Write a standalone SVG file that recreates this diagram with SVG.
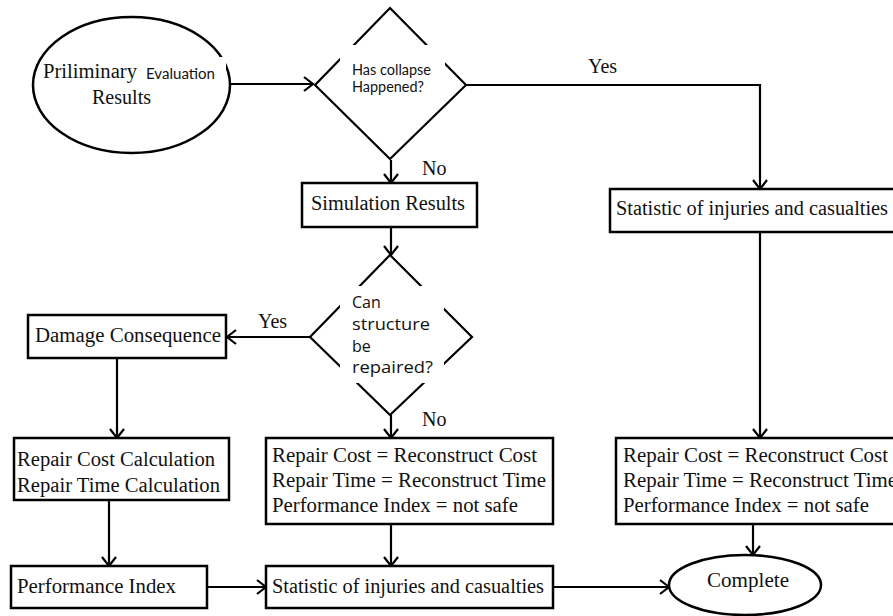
<svg xmlns="http://www.w3.org/2000/svg" width="893" height="616" viewBox="0 0 893 616">
  <defs>
    <marker id="arrow" markerUnits="userSpaceOnUse" markerWidth="14" markerHeight="18" refX="11" refY="9" orient="auto" overflow="visible">
      <path d="M2,2 L11,9 L2,16" fill="none" stroke="#000" stroke-width="2.2" stroke-linejoin="miter"/>
    </marker>
    <style>
      .shape { fill: #fff; stroke: #000; stroke-width: 2.5; }
      .open { fill: none; stroke: #000; stroke-width: 2.2; }
      .mask { fill: #fff; stroke: none; }
      .serif { font-family: "Liberation Serif", "Times New Roman", serif; font-size: 20px; fill: #111; }
      .calibri { font-family: Lato, "Noto Sans", sans-serif; font-size: 15.5px; fill: #111; }
      .sans { font-family: "Open Sans", "Noto Sans", sans-serif; font-size: 16px; fill: #111; }
      .link { fill: none; stroke: #000; stroke-width: 2.2; marker-end: url(#arrow); }
    </style>
  </defs>
  <rect width="893" height="616" fill="#fff"/>

  <!-- connectors -->
  <g id="connectors">
    <path class="link" d="M230,84 H313"/>
    <path class="link" d="M466,85 H760 V189"/>
    <path class="link" d="M391,160 V183"/>
    <path class="link" d="M391,227 V255"/>
    <path class="link" d="M310,337 H227"/>
    <path class="link" d="M391,415 V438"/>
    <path class="link" d="M760,232 V438"/>
    <path class="link" d="M117,358 V438"/>
    <path class="link" d="M109,500 V566"/>
    <path class="link" d="M391,524 V566"/>
    <path class="link" d="M207,587 H266"/>
    <path class="link" d="M553,587 H669"/>
    <path class="link" d="M753,524 V555"/>
    <text class="serif" x="588" y="73">Yes</text>
    <text class="serif" x="422" y="175">No</text>
    <text class="serif" x="258" y="328">Yes</text>
    <text class="serif" x="422" y="426">No</text>
  </g>

  <!-- start: preliminary evaluation results -->
  <g id="start">
    <ellipse class="shape" cx="131.5" cy="85" rx="98.5" ry="68"/>
    <rect class="mask" x="142" y="57" width="84" height="30"/>
    <text class="serif" x="43" y="78" textLength="94" lengthAdjust="spacingAndGlyphs">Priliminary</text>
    <text class="calibri" x="146" y="79" textLength="69" lengthAdjust="spacingAndGlyphs">Evaluation</text>
    <text class="serif" x="92" y="104" textLength="59" lengthAdjust="spacingAndGlyphs">Results</text>
  </g>

  <!-- decision: collapse -->
  <g id="collapse-check">
    <polygon class="open" points="390,8 466,85 390,159 315,85"/>
    <rect class="mask" x="340" y="45" width="105" height="55"/>
    <text class="calibri" x="352" y="75" textLength="79" lengthAdjust="spacingAndGlyphs">Has collapse</text>
    <text class="calibri" x="352" y="92" textLength="72" lengthAdjust="spacingAndGlyphs">Happened?</text>
  </g>

  <g id="simulation">
    <rect class="shape" x="302" y="183" width="175" height="44"/>
    <text class="serif" x="311" y="210" textLength="154" lengthAdjust="spacingAndGlyphs">Simulation Results</text>
  </g>

  <g id="statistic-collapse">
    <rect class="shape" x="610" y="189" width="290" height="43"/>
    <text class="serif" x="616" y="215" textLength="272" lengthAdjust="spacingAndGlyphs">Statistic of  injuries and casualties</text>
  </g>

  <!-- decision: repairable -->
  <g id="repair-check">
    <polygon class="open" points="390,255 472,337 390,415 310,337"/>
    <rect class="mask" x="340" y="286" width="104" height="97"/>
    <text class="sans" x="352" y="308">Can</text>
    <text class="sans" x="352" y="330" textLength="78" lengthAdjust="spacingAndGlyphs">structure</text>
    <text class="sans" x="352" y="352">be</text>
    <text class="sans" x="352" y="373" textLength="81" lengthAdjust="spacingAndGlyphs">repaired?</text>
  </g>

  <g id="damage">
    <rect class="shape" x="28" y="315" width="198" height="43"/>
    <text class="serif" x="35" y="342" textLength="186" lengthAdjust="spacingAndGlyphs">Damage Consequence</text>
  </g>

  <g id="repair-calc">
    <rect class="shape" x="14" y="438" width="215" height="62"/>
    <text class="serif" x="17" y="466" textLength="198" lengthAdjust="spacingAndGlyphs">Repair Cost Calculation</text>
    <text class="serif" x="17" y="492" textLength="203" lengthAdjust="spacingAndGlyphs">Repair Time Calculation</text>
  </g>

  <g id="reconstruct">
    <rect class="shape" x="266" y="438" width="287" height="86"/>
    <text class="serif" x="272" y="462" textLength="265" lengthAdjust="spacingAndGlyphs">Repair Cost = Reconstruct Cost</text>
    <text class="serif" x="272" y="487" textLength="274" lengthAdjust="spacingAndGlyphs">Repair Time = Reconstruct Time</text>
    <text class="serif" x="272" y="512" textLength="246" lengthAdjust="spacingAndGlyphs">Performance Index = not safe</text>
  </g>

  <g id="reconstruct-collapse">
    <rect class="shape" x="616" y="438" width="290" height="86"/>
    <text class="serif" x="623" y="462" textLength="265" lengthAdjust="spacingAndGlyphs">Repair Cost = Reconstruct Cost</text>
    <text class="serif" x="623" y="487" textLength="274" lengthAdjust="spacingAndGlyphs">Repair Time = Reconstruct Time</text>
    <text class="serif" x="623" y="512" textLength="246" lengthAdjust="spacingAndGlyphs">Performance Index = not safe</text>
  </g>

  <g id="performance">
    <rect class="shape" x="11" y="566" width="196" height="42"/>
    <text class="serif" x="17" y="593" textLength="159" lengthAdjust="spacingAndGlyphs">Performance Index</text>
  </g>

  <g id="statistic-repair">
    <rect class="shape" x="266" y="566" width="287" height="42"/>
    <text class="serif" x="272" y="593" textLength="272" lengthAdjust="spacingAndGlyphs">Statistic of  injuries and casualties</text>
  </g>

  <g id="complete">
    <ellipse class="shape" cx="745" cy="585" rx="76" ry="30"/>
    <text class="serif" x="707" y="587" textLength="82" lengthAdjust="spacingAndGlyphs">Complete</text>
  </g>
</svg>
